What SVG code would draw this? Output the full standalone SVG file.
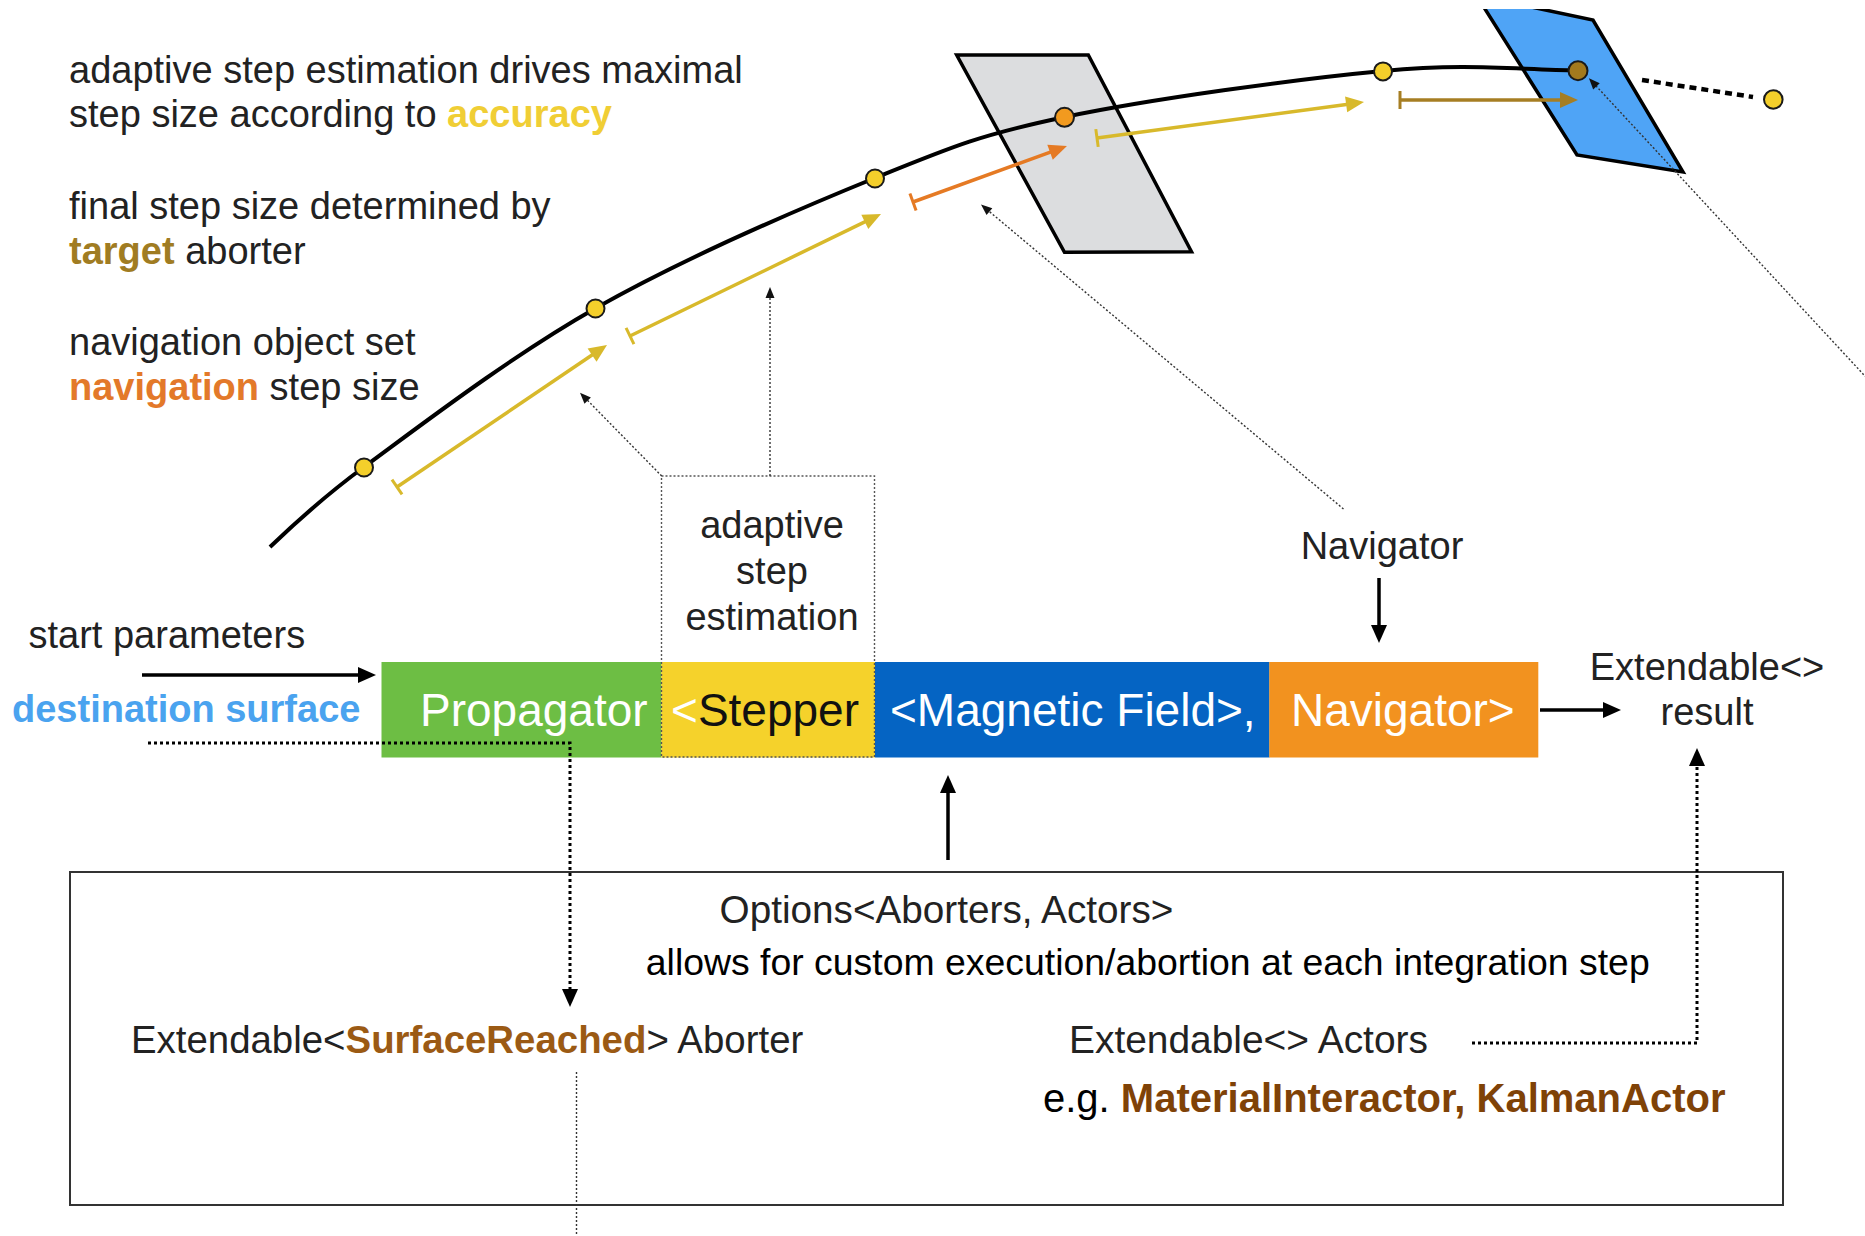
<svg xmlns="http://www.w3.org/2000/svg" width="1865" height="1236" viewBox="0 0 1865 1236">
<style>
text{font-family:'Liberation Sans',Arial,sans-serif;}
.lbl{font-size:38px;fill:#222;}
.bar{font-size:46px;fill:#fff;}
.b{font-weight:bold;}
.curve{fill:none;stroke:#000;stroke-width:4;}
.dot{stroke:#1a1a1a;stroke-width:2;}
.solid{fill:none;stroke:#000;stroke-width:3.5;marker-end:url(#ah);}
.thickdot{fill:none;stroke:#000;stroke-width:3;stroke-dasharray:3 3;marker-end:url(#ah);}
.thin{fill:none;stroke:#333;stroke-width:1.4;stroke-dasharray:2 2;}
.thinar{marker-end:url(#ahs);}
.stepY{fill:none;stroke:#d8b92b;stroke-width:3.5;marker-start:url(#teeY);marker-end:url(#ahY);}
.stepO{fill:none;stroke:#e57a24;stroke-width:3.5;marker-start:url(#teeO);marker-end:url(#ahO);}
.stepB{fill:none;stroke:#a67e23;stroke-width:3.5;marker-start:url(#teeB);marker-end:url(#ahB);}
</style>
<defs>
<marker id="ah" markerUnits="userSpaceOnUse" markerWidth="20" markerHeight="16" refX="3" refY="8" orient="auto" overflow="visible"><path d="M0,0 L18,8 L0,16 z" fill="#000"/></marker>
<marker id="ahs" markerUnits="userSpaceOnUse" markerWidth="12" markerHeight="9" refX="2" refY="4.5" orient="auto" overflow="visible"><path d="M0,0 L11,4.5 L0,9 z" fill="#111"/></marker>
<marker id="ahY" markerUnits="userSpaceOnUse" markerWidth="20" markerHeight="16" refX="4" refY="8" orient="auto" overflow="visible"><path d="M0,0 L18,8 L0,16 z" fill="#d8b92b"/></marker>
<marker id="ahO" markerUnits="userSpaceOnUse" markerWidth="20" markerHeight="16" refX="4" refY="8" orient="auto" overflow="visible"><path d="M0,0 L18,8 L0,16 z" fill="#e57a24"/></marker>
<marker id="ahB" markerUnits="userSpaceOnUse" markerWidth="20" markerHeight="16" refX="4" refY="8" orient="auto" overflow="visible"><path d="M0,0 L18,8 L0,16 z" fill="#a67e23"/></marker>
<marker id="teeY" markerUnits="userSpaceOnUse" markerWidth="4" markerHeight="20" refX="0" refY="0" orient="auto" overflow="visible"><path d="M0,-9 L0,9" stroke="#d8b92b" stroke-width="3"/></marker>
<marker id="teeO" markerUnits="userSpaceOnUse" markerWidth="4" markerHeight="20" refX="0" refY="0" orient="auto" overflow="visible"><path d="M0,-9 L0,9" stroke="#e57a24" stroke-width="3"/></marker>
<marker id="teeB" markerUnits="userSpaceOnUse" markerWidth="4" markerHeight="20" refX="0" refY="0" orient="auto" overflow="visible"><path d="M0,-9 L0,9" stroke="#a67e23" stroke-width="3"/></marker>
<clipPath id="topclip"><rect x="0" y="9" width="1865" height="1227"/></clipPath>
</defs>
<rect width="1865" height="1236" fill="#fff"/>

<g id="captions">
<text class="lbl" x="69" y="83">adaptive step estimation drives maximal</text>
<text class="lbl" x="69" y="127">step size according to <tspan class="b" style="fill:#f0ce35">accuracy</tspan></text>
<text class="lbl" x="69" y="219">final step size determined by</text>
<text class="lbl" x="69" y="264"><tspan class="b" style="fill:#a07c22">target</tspan> aborter</text>
<text class="lbl" x="69" y="355">navigation object set</text>
<text class="lbl" x="69" y="400"><tspan class="b" style="fill:#e3792a">navigation</tspan> step size</text>
</g>

<g id="surfaces">
<polygon id="gray-surface" points="956.7,55 1088.3,55 1191.5,251.7 1064.5,252.3" fill="#dcdddf" stroke="#000" stroke-width="3.5"/>
<polygon id="blue-surface" clip-path="url(#topclip)" points="1476.5,-4.5 1593,20 1683,172 1577,155" fill="#4fa4f6" stroke="#000" stroke-width="3.5"/>
</g>

<g id="trajectory">
<path class="curve" d="M270,547 C299.5,518.7 331,491.2 364,467 C418.3,427.2 510.8,356.2 596,308 C681.2,259.8 796.8,209.8 875,178 C953.2,146.2 980.3,134.8 1065,117 C1149.7,99.2 1297.2,79 1383,71 C1468.8,63 1514.3,69.7 1578,70.5"/>
<path d="M1642,80 L1753,97" fill="none" stroke="#000" stroke-width="4.5" stroke-dasharray="7 5"/>
</g>

<g id="steps">
<path class="stepY" d="M397,487 L595.4,352.8"/>
<path class="stepY" d="M630,336 L868.4,220.1"/>
<path class="stepO" d="M913,202 L1053.8,150.8"/>
<path class="stepY" d="M1097,138 L1350.1,103.9"/>
<path class="stepB" d="M1400,100 L1564,100"/>
</g>

<g id="points">
<circle class="dot" cx="364" cy="467.5" r="9" fill="#f4cf2b"/>
<circle class="dot" cx="595.5" cy="308.5" r="9" fill="#f4cf2b"/>
<circle class="dot" cx="875" cy="178.5" r="9" fill="#f4cf2b"/>
<circle class="dot" cx="1064.5" cy="117.3" r="9.5" fill="#f29a1f"/>
<circle class="dot" cx="1383" cy="71.4" r="9" fill="#f4cf2b"/>
<circle class="dot" cx="1578" cy="70.7" r="9.5" fill="#a37a1e"/>
<circle class="dot" cx="1773.3" cy="99.5" r="9.3" fill="#f4cf2b"/>
</g>

<g id="propagator">
<rect x="381.5" y="662" width="280" height="95.5" fill="#6dbe44"/>
<text class="bar" x="420" y="726">Propagator</text>
</g>
<g id="stepper">
<rect x="661.3" y="662" width="213.7" height="95.5" fill="#f5d22b"/>
<text class="bar" x="671" y="726">&lt;<tspan style="fill:#111">Stepper</tspan></text>
</g>
<g id="magnetic-field">
<rect x="875" y="662" width="394.5" height="95.5" fill="#0564c3"/>
<text class="bar" x="890" y="726">&lt;Magnetic Field&gt;,</text>
</g>
<g id="navigator">
<rect x="1269.3" y="662" width="269" height="95.5" fill="#f2921f"/>
<text class="bar" x="1291" y="726">Navigator&gt;</text>
</g>

<g id="adaptive-step-estimation">
<rect x="661.5" y="476" width="213" height="281" fill="none" stroke="#555" stroke-width="1.4" stroke-dasharray="2 2"/>
<text class="lbl" x="772" y="538" text-anchor="middle">adaptive</text>
<text class="lbl" x="772" y="584" text-anchor="middle">step</text>
<text class="lbl" x="772" y="630" text-anchor="middle">estimation</text>
</g>

<g id="navigator-label">
<text class="lbl" x="1382" y="559" text-anchor="middle">Navigator</text>
</g>

<g id="start-parameters">
<text class="lbl" x="28.5" y="648">start parameters</text>
</g>
<g id="destination-surface">
<text class="lbl b" x="12" y="722" style="fill:#4aa3ef">destination surface</text>
</g>

<g id="result">
<text class="lbl" x="1707" y="680" text-anchor="middle">Extendable&lt;&gt;</text>
<text class="lbl" x="1707" y="725" text-anchor="middle">result</text>
</g>

<g id="options">
<rect x="70" y="872" width="1713" height="333" fill="none" stroke="#333" stroke-width="2"/>
<text class="lbl" x="719.6" y="923" style="font-size:38.7px">Options&lt;Aborters, Actors&gt;</text>
<text x="645.8" y="975" style="font-size:37.4px;fill:#000">allows for custom execution/abortion at each integration step</text>
<text class="lbl" x="131" y="1053" style="font-size:38.4px">Extendable&lt;<tspan class="b" style="fill:#9b5a14">SurfaceReached</tspan>&gt; Aborter</text>
<text class="lbl" x="1069" y="1053" style="font-size:38.9px">Extendable&lt;&gt; Actors</text>
<text x="1043" y="1112" style="font-size:40px;fill:#000">e.g. <tspan class="b" style="fill:#7f4207">MaterialInteractor, KalmanActor</tspan></text>
</g>

<g id="connectors">
<path class="solid" d="M142,675 L361,675"/>
<path class="solid" d="M1379,578 L1379,628"/>
<path class="solid" d="M1540,710 L1606,710"/>
<path class="solid" d="M948,860 L948,790"/>
<path class="thickdot" d="M148,743 L570,743 L570,992"/>
<path class="thickdot" d="M1472,1043 L1697,1043 L1697,763"/>
<path class="thin thinar" d="M661.7,476 L586.3,399.1"/>
<path class="thin thinar" d="M770,476 L770,296"/>
<path class="thin thinar" d="M1343.5,509 L987.9,210.3"/>
<path class="thin thinar" d="M1880,392.3 L1595.1,84.9"/>
<path class="thin" d="M576.5,1072 L576.5,1236"/>
</g>
</svg>
